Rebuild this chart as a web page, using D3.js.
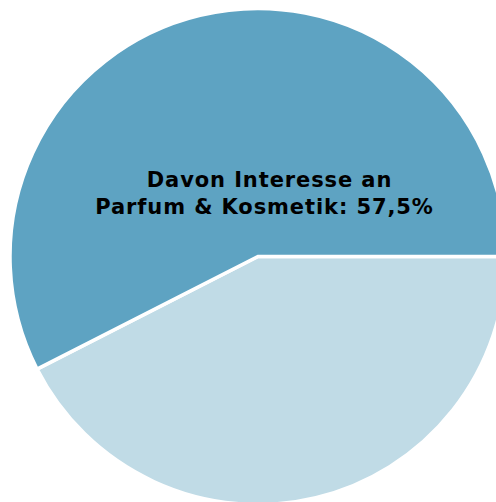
<!DOCTYPE html>
<html>
<head>
<meta charset="utf-8">
<script src="https://cdn.jsdelivr.net/npm/d3@7"></script>
<style>
  html, body { margin: 0; padding: 0; background: #ffffff; }
  svg { display: block; }
</style>
</head>
<body>
<svg id="chart" width="496" height="502"></svg>
<script>
// Share of respondents interested in perfume & cosmetics
const categories = ["Kein Interesse", "Interesse an Parfum & Kosmetik"];
const shares = [42.5, 57.5];
const colors = ["#c0dbe6", "#5ea3c2"];
const labelLines = ["Davon Interesse an", "Parfum & Kosmetik: 57,5%"];
const labelCenters = [269.5, 264.5];

const svg = d3.select("#chart");
const cx = 258, cy = 256.5, radius = 248;

const pie = d3.pie()
  .sort(null)
  .value(d => d)
  .startAngle(Math.PI / 2)
  .endAngle(Math.PI / 2 + 2 * Math.PI);

const arc = d3.arc().innerRadius(0).outerRadius(radius);

const g = svg.append("g").attr("transform", `translate(${cx},${cy})`);

g.selectAll("path")
  .data(pie(shares))
  .join("path")
  .attr("d", arc)
  .attr("fill", (d, i) => colors[i])
  .attr("stroke", "#ffffff")
  .attr("stroke-width", 3.5)
  .attr("stroke-linejoin", "miter");

svg.append("text")
  .attr("y", 187)
  .attr("text-anchor", "middle")
  .attr("font-family", "'DejaVu Sans', Verdana, sans-serif")
  .attr("font-weight", "bold")
  .attr("font-size", 21)
  .attr("letter-spacing", 0.9)
  .attr("fill", "#000000")
  .selectAll("tspan")
  .data(labelLines)
  .join("tspan")
  .attr("x", (d, i) => labelCenters[i])
  .attr("dy", (d, i) => i === 0 ? 0 : 27)
  .text(d => d);
</script>
</body>
</html>
